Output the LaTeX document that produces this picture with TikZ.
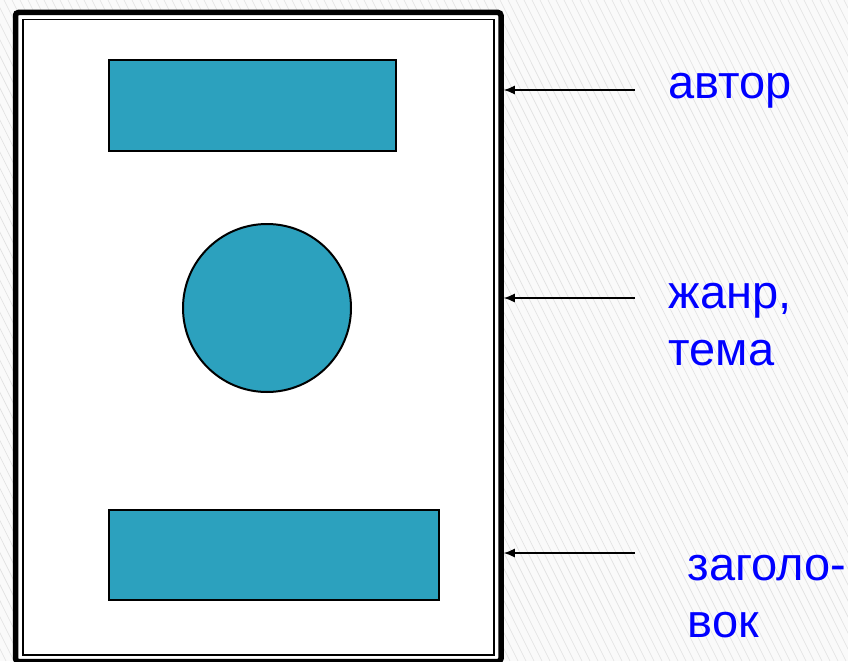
\documentclass[tikz,border=0pt]{standalone}
\usepackage{fontspec}
\setmainfont{Liberation Sans}
\usetikzlibrary{positioning}
\usetikzlibrary{arrows.meta}
\definecolor{boxteal}{RGB}{44,161,190}
\tikzset{every picture/.style={line width=1.5pt},
  part/.style={draw,fill=boxteal,line width=2pt,inner sep=0pt},
  lbl/.style={text=blue,font=\fontsize{47}{57}\selectfont,inner sep=0pt,align=left,anchor=base west}}
\begin{document}
\begin{tikzpicture}[x=1pt,y=-1pt]
\useasboundingbox (0,0) rectangle (848,661);
\fill[black!2] (0,0) rectangle (848,661);
\begin{scope}
\clip (0,0) rectangle (848,661);
\foreach \x in {-340,-332,...,848} \draw[black!12,line width=0.6pt] (\x,0) -- (\x+330,661);
\end{scope}
\node (card) [draw,fill=white,line width=5.5pt,rounded corners=3pt,inner sep=0pt,minimum width=485.5pt,minimum height=649pt] at (258.25,337) {};
\node (cardin) [draw,inner sep=0pt,minimum width=471pt,minimum height=635.5pt] at (258.5,337.25) {};
\node (author) [part,minimum width=287pt,minimum height=91pt] at (252,105.5) {};
\node (genre) [part,circle,minimum size=168pt] at (267,308) {};
\node (title) [part,minimum width=330pt,minimum height=89.5pt] at (274,555) {};
% base of the last line
\node (authorlbl) [lbl] at (668,98) {автор};
\node (genrelbl) [lbl] at (668,365) {жанр,\\тема};
\node (titlelbl) [lbl] at (687,637) {заголо-\\вок};
\coordinate (a1) at (635,90);
\coordinate (a2) at (635,298);
\coordinate (a3) at (635,553);
\draw[-{Latex[length=11pt,width=9pt]}] (a1) -- (a1 -| card.east);
\draw[-{Latex[length=11pt,width=9pt]}] (a2) -- (a2 -| card.east);
\draw[-{Latex[length=11pt,width=9pt]}] (a3) -- (a3 -| card.east);
\end{tikzpicture}
\end{document}
